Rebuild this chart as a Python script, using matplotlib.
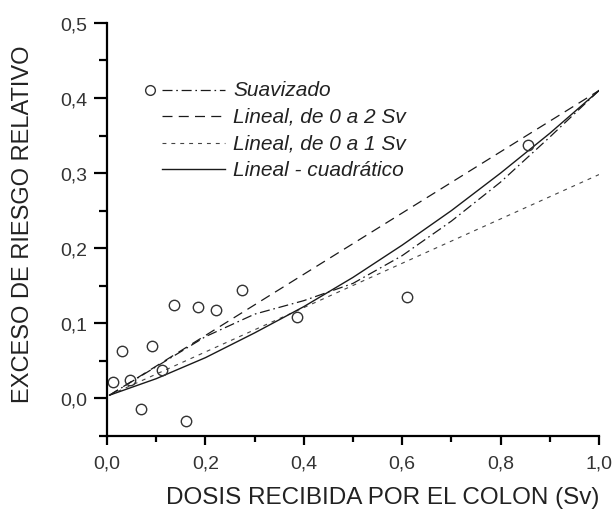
import matplotlib
matplotlib.use('Agg')
import matplotlib.pyplot as plt
from matplotlib.ticker import MultipleLocator, FuncFormatter

plt.rcParams['font.family'] = ['Liberation Sans', 'DejaVu Sans']

# observed points (dose Sv, excess relative risk)
dose = [0.012, 0.030, 0.047, 0.069, 0.091, 0.111, 0.136, 0.161, 0.184, 0.222, 0.274, 0.386, 0.609, 0.855]
err = [0.022, 0.063, 0.024, -0.014, 0.070, 0.038, 0.124, -0.031, 0.121, 0.118, 0.144, 0.108, 0.135, 0.338]

# fitted curves
curve_x = [0.005, 0.1, 0.2, 0.3, 0.4, 0.5, 0.6, 0.7, 0.8, 0.9, 1.0]
suavizado = [0.004, 0.042, 0.082, 0.112, 0.130, 0.153, 0.190, 0.236, 0.288, 0.348, 0.41]
lin_quad = [0.004, 0.026, 0.054, 0.087, 0.122, 0.161, 0.204, 0.250, 0.300, 0.353, 0.41]
lin_x = [0.005, 1.0]
lin_0_2 = [0.004, 0.41]
lin_0_1 = [0.004, 0.298]

labels = ['Suavizado', 'Lineal, de 0 a 2 Sv', 'Lineal, de 0 a 1 Sv', 'Lineal - cuadrático']

fig = plt.figure(figsize=(6.14, 5.10), dpi=100)
ax = fig.add_axes([0.1743, 0.1437, 0.8013, 0.8093])

col = '#1a1a1a'
st_suav = dict(color=col, lw=0.9, dashes=(8, 3, 1.3, 3))
st_l2 = dict(color=col, lw=0.9, dashes=(8, 5))
st_l1 = dict(color='#444444', lw=0.8, dashes=(3.5, 4.5))
st_lq = dict(color=col, lw=1.0)

ax.plot(curve_x, suavizado, **st_suav)
ax.plot(lin_x, lin_0_2, **st_l2)
ax.plot(lin_x, lin_0_1, **st_l1)
ax.plot(curve_x, lin_quad, **st_lq)
ax.plot(dose, err, 'o', ms=7.5, mfc='none', mec='#333333', mew=1.0)

ax.set_xlim(0, 1.0)
ax.set_ylim(-0.05, 0.5)
for s in ['top', 'right']:
    ax.spines[s].set_visible(False)
for s in ['left', 'bottom']:
    ax.spines[s].set_linewidth(1.6)

ax.xaxis.set_major_locator(MultipleLocator(0.2))
ax.xaxis.set_minor_locator(MultipleLocator(0.1))
ax.yaxis.set_major_locator(MultipleLocator(0.1))
ax.yaxis.set_minor_locator(MultipleLocator(0.05))
fmt = FuncFormatter(lambda v, p: ('%.1f' % v).replace('.', ',').replace('-0,0', '0,0'))
ax.xaxis.set_major_formatter(fmt)
ax.yaxis.set_major_formatter(fmt)
ax.tick_params(axis='y', which='major', length=9.5, width=1.6, labelsize=14, pad=5, labelcolor='#333333')
ax.tick_params(axis='y', which='minor', length=6, width=1.6)
ax.tick_params(axis='x', which='major', length=6.5, width=1.6, labelsize=14, pad=7, labelcolor='#333333')
ax.tick_params(axis='x', which='minor', length=4.5, width=1.6)

ax.set_xlabel('DOSIS RECIBIDA POR EL COLON (Sv)', fontsize=17.5, color='#222222', va='center')
ax.set_ylabel('EXCESO DE RIESGO RELATIVO', fontsize=17, color='#222222', va='center')
ax.xaxis.set_label_coords(0.56, -0.1485)
ax.yaxis.set_label_coords(-0.171, 0.515)

# legend drawn by hand
rows = [0.838, 0.774, 0.709, 0.646]
for yy, lab, st in zip(rows, labels, [st_suav, st_l2, st_l1, st_lq]):
    ax.plot([0.112, 0.240], [yy, yy], transform=ax.transAxes, **st)
    ax.text(0.256, yy, lab, transform=ax.transAxes, fontsize=15, style='italic',
            va='center', ha='left', color='#222222')
ax.plot([0.087], [rows[0]], 'o', ms=7, mfc='none', mec='#333333', mew=1.0, transform=ax.transAxes)

fig.savefig('out.png', dpi=100)
